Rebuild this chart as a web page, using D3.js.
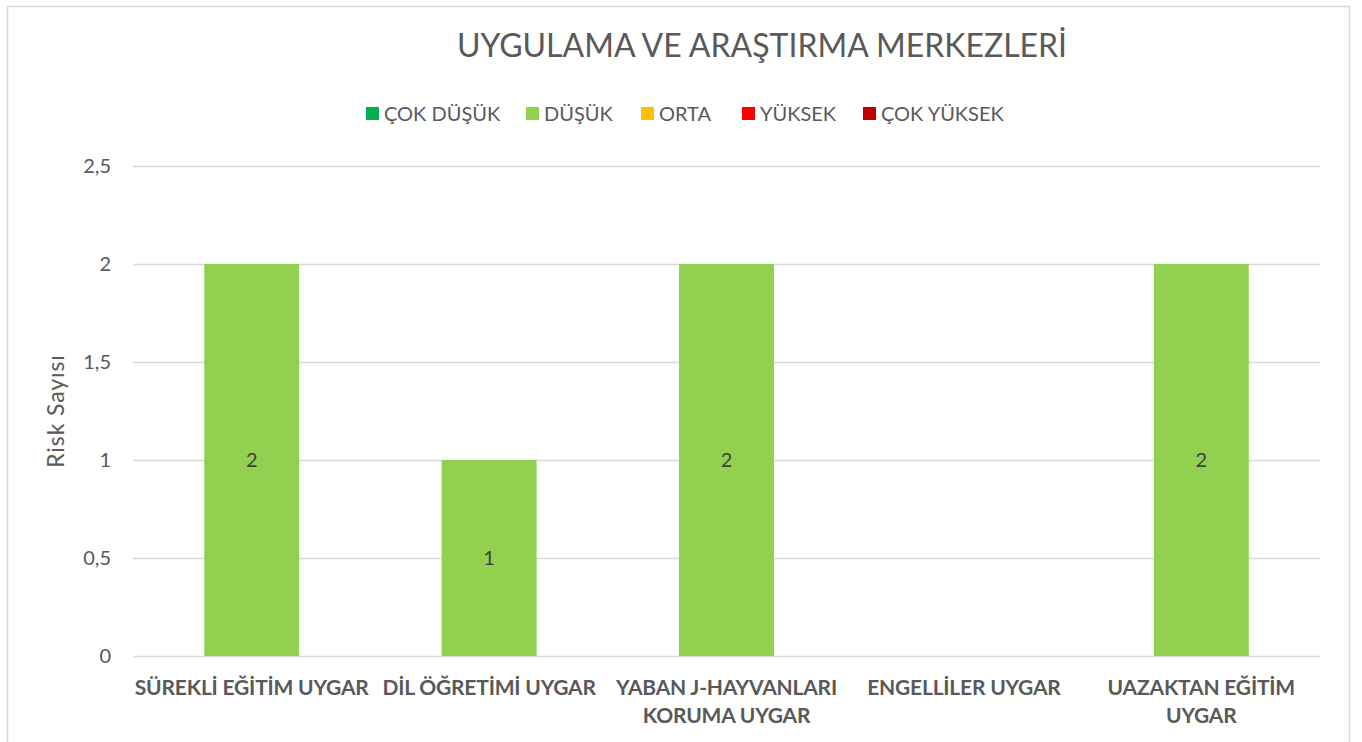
<!DOCTYPE html>
<html>
<head>
<meta charset="utf-8">
<script src="https://cdn.jsdelivr.net/npm/d3@7"></script>
<style>
  body { margin: 0; background: #fff; }
  svg { display: block; font-family: Lato, "Open Sans", sans-serif; }
</style>
</head>
<body>
<svg id="chart" width="1362" height="742"></svg>
<script>
const categories = [
  ['SÜREKLİ EĞİTİM UYGAR'],
  ['DİL ÖĞRETİMİ UYGAR'],
  ['YABAN J-HAYVANLARI', 'KORUMA UYGAR'],
  ['ENGELLİLER UYGAR'],
  ['UAZAKTAN EĞİTİM', 'UYGAR']
]
const seriesNames = ['ÇOK DÜŞÜK', 'DÜŞÜK', 'ORTA', 'YÜKSEK', 'ÇOK YÜKSEK']
const seriesColors = ['#00b050', '#92d050', '#ffc000', '#ff0000', '#c00000']
const cokDusuk = [0, 0, 0, 0, 0]
const dusuk = [2, 1, 2, 0, 2]
const orta = [0, 0, 0, 0, 0]
const yuksek = [0, 0, 0, 0, 0]
const cokYuksek = [0, 0, 0, 0, 0]
const yTicks = [0, 0.5, 1, 1.5, 2, 2.5]

const seriesValues = [cokDusuk, dusuk, orta, yuksek, cokYuksek]
const table = categories.map((c, i) => {
  const row = { idx: i }
  seriesNames.forEach((s, j) => { row[s] = seriesValues[j][i] })
  return row
})

const svg = d3.select('#chart')
const margin = { left: 133, right: 42, top: 166, bottom: 86 }
const width = 1362, height = 742

// outer frame
svg.append('rect').attr('x', 7.5).attr('y', 6.5).attr('width', 1342).attr('height', 760)
  .attr('fill', '#fff').attr('stroke', '#d9d9d9').attr('stroke-width', 1.5)

const x = d3.scaleBand().domain(d3.range(categories.length))
  .range([margin.left, width - margin.right]).paddingInner(0.6).paddingOuter(0.3)
const y = d3.scaleLinear().domain([0, 2.5]).range([height - margin.bottom, margin.top])

// gridlines
svg.append('g').selectAll('line').data(yTicks).join('line')
  .attr('x1', margin.left).attr('x2', width - margin.right)
  .attr('y1', d => Math.round(y(d)) + 0.5).attr('y2', d => Math.round(y(d)) + 0.5)
  .attr('stroke', '#d9d9d9').attr('stroke-width', 1.3)

const yAxis = d3.axisLeft(y).tickValues(yTicks).tickSize(0).tickPadding(22)
  .tickFormat(d => String(d).replace('.', ','))
const ya = svg.append('g').attr('transform', `translate(${margin.left},0)`).call(yAxis)
ya.select('.domain').remove()
ya.selectAll('text').attr('fill', '#595959').attr('font-size', 20).attr('font-family', 'Lato, sans-serif')

// stacked bars
const stack = d3.stack().keys(seriesNames)(table)
stack.forEach((layer, j) => {
  svg.append('g').selectAll('rect').data(layer.filter(d => d[1] - d[0] > 0)).join('rect')
    .attr('x', d => x(d.data.idx))
    .attr('width', x.bandwidth())
    .attr('y', d => y(d[1]))
    .attr('height', d => y(d[0]) - y(d[1]))
    .attr('fill', seriesColors[j])
  svg.append('g').selectAll('text').data(layer.filter(d => d[1] - d[0] > 0)).join('text')
    .attr('x', d => x(d.data.idx) + x.bandwidth() / 2)
    .attr('y', d => y((d[0] + d[1]) / 2))
    .attr('dy', '0.35em')
    .attr('text-anchor', 'middle')
    .attr('font-size', 20)
    .attr('fill', '#404040')
    .text(d => d[1] - d[0])
})

// category labels
const cat = svg.append('g').selectAll('text').data(categories).join('text')
  .attr('x', (d, i) => x(i) + x.bandwidth() / 2)
  .attr('y', 695)
  .attr('text-anchor', 'middle')
  .attr('font-size', 21)
  .attr('font-weight', 'bold')
  .attr('fill', '#595959')
  .attr('letter-spacing', -0.2)
cat.selectAll('tspan').data(d => d).join('tspan')
  .attr('x', function () { return this.parentNode.getAttribute('x') })
  .attr('dy', (d, i) => i === 0 ? 0 : 28)
  .text(d => d)

// y axis title
svg.append('text')
  .attr('transform', `translate(64,${y(1.25)}) rotate(-90)`)
  .attr('text-anchor', 'middle')
  .attr('font-size', 23)
  .attr('letter-spacing', 0.9)
  .attr('fill', '#595959')
  .text('Risk Sayısı')

// title
svg.append('text')
  .attr('x', 762).attr('y', 57)
  .attr('text-anchor', 'middle')
  .attr('font-size', 32)
  .attr('fill', '#595959')
  .text('UYGULAMA VE ARAŞTIRMA MERKEZLERİ')

// legend
const legendX = [366, 526, 641, 742, 863]
const lg = svg.append('g').selectAll('g').data(seriesNames).join('g')
  .attr('transform', (d, i) => `translate(${legendX[i]},107)`)
lg.append('rect').attr('width', 13).attr('height', 13).attr('fill', (d, i) => seriesColors[i])
lg.append('text').attr('x', 18).attr('y', 7).attr('dy', '0.36em')
  .attr('font-size', 20).attr('fill', '#595959')
  .text(d => d)
</script>
</body>
</html>
